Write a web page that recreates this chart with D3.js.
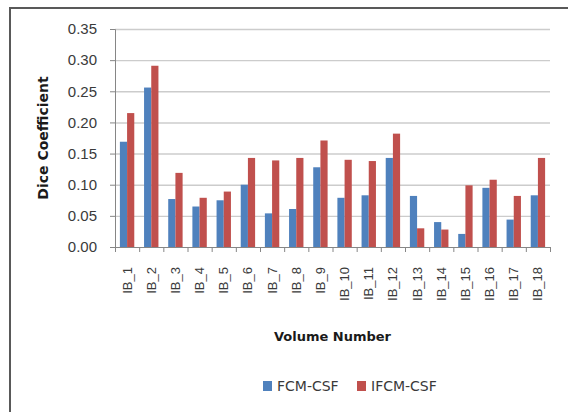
<!DOCTYPE html>
<html>
<head>
<meta charset="utf-8">
<script src="https://cdn.jsdelivr.net/npm/d3@7"></script>
<style>
    body { margin: 0; background: #fff; }
    svg { display: block; font-family: "DejaVu Sans", sans-serif; }
</style>
</head>
<body>
<div id="chart"></div>
<script>
// values
const volumes = ["IB_1", "IB_2", "IB_3", "IB_4", "IB_5", "IB_6", "IB_7", "IB_8", "IB_9",
    "IB_10", "IB_11", "IB_12", "IB_13", "IB_14", "IB_15", "IB_16", "IB_17", "IB_18"];
const seriesNames = ["FCM-CSF", "IFCM-CSF"];
const fcmCsf = [0.169, 0.256, 0.077, 0.065, 0.075, 0.100, 0.054, 0.061, 0.128,
    0.079, 0.083, 0.143, 0.082, 0.040, 0.021, 0.095, 0.044, 0.083];
const ifcmCsf = [0.215, 0.291, 0.119, 0.079, 0.089, 0.143, 0.139, 0.143, 0.171,
    0.140, 0.138, 0.182, 0.030, 0.028, 0.099, 0.108, 0.082, 0.143];
const yTicks = [0, 0.05, 0.10, 0.15, 0.20, 0.25, 0.30, 0.35];
const colors = ["#4F81BD", "#C0504D"];

const width = 568, height = 412;
const margin = { top: 29, right: 18, bottom: 165, left: 115 };
const innerW = width - margin.left - margin.right;
const innerH = height - margin.top - margin.bottom;

const rows = volumes.map((v, i) => ({ volume: v, values: [fcmCsf[i], ifcmCsf[i]] }));

const svg = d3.select("#chart")
    .append("svg")
    .attr("width", width)
    .attr("height", height);

// chart area border (runs off the right and bottom edges in the reference)
svg.append("rect")
    .attr("x", 10)
    .attr("y", 8)
    .attr("width", 600)
    .attr("height", 450)
    .attr("fill", "none")
    .attr("stroke", "#595959")
    .attr("stroke-width", 2);

const g = svg.append("g")
    .attr("transform", `translate(${margin.left}, ${margin.top})`);

const x0 = d3.scaleBand()
    .domain(volumes)
    .range([0, innerW]);

const x1 = d3.scaleBand()
    .domain(seriesNames)
    .range([0, x0.bandwidth()])
    .paddingOuter(0.68);

const xEdges = d3.scaleLinear()
    .domain([0, volumes.length])
    .range([0, innerW]);

const y = d3.scaleLinear()
    .domain([0, 0.35])
    .range([innerH, 0]);

// gridlines
g.append("g")
    .attr("class", "grid")
    .call(d3.axisLeft(y).tickValues(yTicks.slice(1)).tickSize(-innerW).tickFormat(""))
    .call(s => s.select(".domain").remove())
    .selectAll("line")
    .attr("stroke", "#cccccc")
    .attr("stroke-width", 1.4);

// y axis
const yAxis = g.append("g")
    .call(d3.axisLeft(y).tickValues(yTicks).tickSize(5).tickPadding(13).tickFormat(d3.format(".2f")));
yAxis.select(".domain").attr("stroke", "#868686");
yAxis.selectAll("line").attr("stroke", "#868686");
yAxis.selectAll("text")
    .attr("font-size", 15)
    .attr("fill", "#3a3a3a");

// bars
const groups = g.selectAll(".volume")
    .data(rows)
    .enter()
    .append("g")
    .attr("class", "volume")
    .attr("transform", d => `translate(${x0(d.volume)}, 0)`);

groups.selectAll("rect")
    .data(d => d.values.map((v, i) => ({ key: seriesNames[i], value: v, idx: i })))
    .enter()
    .append("rect")
    .attr("x", d => x1(d.key))
    .attr("y", d => y(d.value))
    .attr("width", x1.bandwidth())
    .attr("height", d => innerH - y(d.value))
    .attr("fill", d => colors[d.idx]);

// x axis: category boundary ticks
const xTickAxis = g.append("g")
    .attr("transform", `translate(0, ${innerH})`)
    .call(d3.axisBottom(xEdges).tickValues(d3.range(volumes.length + 1)).tickSize(5).tickFormat(""));
xTickAxis.select(".domain").attr("stroke", "#868686");
xTickAxis.selectAll("line").attr("stroke", "#868686");

// x axis: rotated labels
const xLabelAxis = g.append("g")
    .attr("transform", `translate(0, ${innerH})`)
    .call(d3.axisBottom(x0).tickSize(0).tickPadding(0));
xLabelAxis.select(".domain").remove();
xLabelAxis.selectAll("text")
    .attr("font-size", 13)
    .attr("fill", "#3a3a3a")
    .attr("transform", "rotate(-90)")
    .attr("x", -20)
    .attr("y", 0)
    .attr("dy", "0.35em")
    .style("text-anchor", "end");

// axis titles
svg.append("text")
    .attr("transform", `translate(43, ${margin.top + innerH / 2}) rotate(-90)`)
    .attr("text-anchor", "middle")
    .attr("dy", "0.35em")
    .attr("font-size", 14)
    .attr("font-weight", "bold")
    .attr("fill", "#1a1a1a")
    .text("Dice Coefficient");

svg.append("text")
    .attr("x", margin.left + innerW / 2)
    .attr("y", 341)
    .attr("text-anchor", "middle")
    .attr("font-size", 13)
    .attr("font-weight", "bold")
    .attr("fill", "#1a1a1a")
    .text("Volume Number");

// legend
const legendX = [263, 357];
const legend = svg.selectAll(".legend")
    .data(seriesNames)
    .enter()
    .append("g")
    .attr("class", "legend")
    .attr("transform", (d, i) => `translate(${legendX[i]}, 386)`);

legend.append("rect")
    .attr("x", 0)
    .attr("y", -5)
    .attr("width", 9)
    .attr("height", 10)
    .attr("fill", (d, i) => colors[i]);

legend.append("text")
    .attr("x", 14)
    .attr("dy", "0.35em")
    .attr("font-size", 14)
    .attr("fill", "#3a3a3a")
    .text(d => d);
</script>
</body>
</html>
